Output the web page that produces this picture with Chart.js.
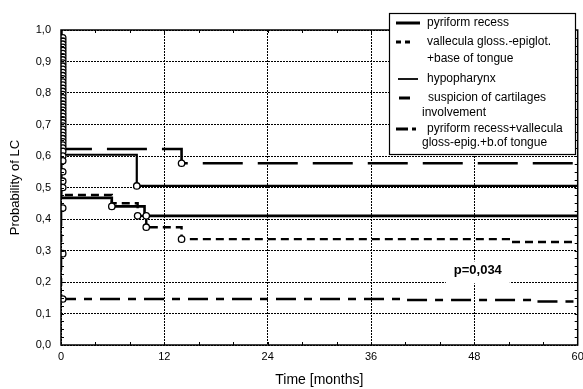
<!DOCTYPE html>
<html><head><meta charset="utf-8">
<script src="https://cdn.jsdelivr.net/npm/chart.js@4/dist/chart.umd.min.js"></script>
<style>html,body{margin:0;padding:0;background:#fff;}#wrap{width:583px;height:389px;overflow:hidden;}</style>
</head><body><div id="wrap"><canvas id="c" width="583" height="389"></canvas></div>
<script>
// ---- data ----
const xTicks = [0, 12, 24, 36, 48, 60];
const yTicks = [0, 0.1, 0.2, 0.3, 0.4, 0.5, 0.6, 0.7, 0.8, 0.9, 1.0];

const pyriformT   = [0, 0, 5.9, 9.7, 60];
const pyriformP   = [1.0, 0.467, 0.44, 0.41, 0.41];

const valleculaT  = [0, 0, 5.9, 8.9, 9.9, 14.0, 52, 60];
const valleculaP  = [1.0, 0.476, 0.45, 0.41, 0.374, 0.336, 0.327, 0.327];

const hypoT       = [0, 0, 8.8, 60];
const hypoP       = [1.0, 0.604, 0.505, 0.505];

const cartilT     = [0, 0, 14.0, 60];
const cartilP     = [1.0, 0.622, 0.577, 0.577];

const combT       = [0, 0, 40, 55, 60];
const combP       = [1.0, 0.146, 0.143, 0.138, 0.138];

const censorT = [0.2,0.2,0.2,0.2,0.2,0.2,0.2,0.2,0.2,0.2,0.2,0.2,0.2,0.2,0.2,0.2,0.2,0.2,0.2,0.2,
                 0.2,0.2,0.2,0.2,0.2,0.2,0.2,0.2,0.2,0.2,0.2,0.2,0.2,0.2,0.2,0.2,0.2,0.2,0.2,0.2,
                 0.2,0.2,0.2,0.2,0.2,
                 5.9, 8.8, 8.9, 9.9, 9.9, 14.0, 14.0];
const censorP = [0.975,0.965,0.955,0.945,0.935,0.925,0.915,0.905,0.895,0.885,0.875,0.865,0.855,0.845,0.835,0.825,0.815,0.805,0.795,0.785,
                 0.775,0.765,0.755,0.745,0.735,0.725,0.715,0.705,0.695,0.685,0.675,0.665,0.655,0.645,0.635,0.625,0.615,0.60,0.585,0.55,
                 0.52,0.50,0.435,0.29,0.146,
                 0.44, 0.505, 0.41, 0.41, 0.374, 0.577, 0.336];

const legendLabels = [
  ["pyriform recess"],
  ["vallecula gloss.-epiglot.", "+base of tongue"],
  ["hypopharynx"],
  ["suspicion of cartilages", "involvement"],
  ["pyriform recess+vallecula", "gloss-epig.+b.of tongue"]
];
const pText = "p=0,034";

// ---- helpers ----
function pts(t, p){ return t.map((v,i)=>({x:v, y:p[i]})); }
const FONT = "'Liberation Sans', Arial, sans-serif";

const styles = [
  {w:2.6, dash:[]},
  {w:2.4, dash:[8,5]},
  {w:2.2, dash:[]},
  {w:2.6, dash:[40,15]},
  {w:2.6, dash:[20,8,8,8]}
];
const curveData = [pts(pyriformT,pyriformP), pts(valleculaT,valleculaP), pts(hypoT,hypoP), pts(cartilT,cartilP), pts(combT,combP)];

const datasets = curveData.map((d,i)=>({
  label: legendLabels[i].join(' '),
  data: d, showLine: true, stepped: true, pointRadius: 0,
  borderColor: '#000', borderWidth: styles[i].w, borderDash: styles[i].dash,
  fill: false, order: 2
}));
datasets.unshift({
  label: 'censored', data: pts(censorT, censorP), showLine: false,
  pointRadius: 3.2, pointBackgroundColor: '#fff', pointBorderColor: '#000', pointBorderWidth: 1.3, order: 0
});

const overlay = {
  id: 'overlay',
  afterDraw(chart){
    const {ctx, chartArea: a, scales:{x, y}} = chart;
    ctx.save();
    // minor ticks
    ctx.strokeStyle = '#000'; ctx.lineWidth = 1; ctx.setLineDash([]);
    ctx.beginPath();
    for (let t = 4; t < 60; t += 4) {
      const px = Math.round(x.getPixelForValue(t)) + 0.5;
      ctx.moveTo(px, a.bottom); ctx.lineTo(px, a.bottom - 3);
      ctx.moveTo(px, a.top); ctx.lineTo(px, a.top + 3);
    }
    for (let k = 1; k < 40; k++) {
      const py = Math.round(y.getPixelForValue(k * 0.025)) + 0.5;
      ctx.moveTo(a.left, py); ctx.lineTo(a.left + 3, py);
      ctx.moveTo(a.right, py); ctx.lineTo(a.right - 3, py);
    }
    ctx.stroke();
    // frame
    ctx.lineWidth = 1.5;
    ctx.strokeRect(a.left, a.top, a.right - a.left, a.bottom - a.top);

    // p-value
    const px = x.getPixelForValue(48.4), py = y.getPixelForValue(0.237);
    ctx.fillStyle = '#fff';
    ctx.fillRect(px - 32, py - 9, 64, 22);
    ctx.fillStyle = '#000';
    ctx.font = 'bold 13px ' + FONT;
    ctx.textAlign = 'center'; ctx.textBaseline = 'middle';
    ctx.fillText(pText, px, py);

    // legend box
    const L = 389, T = 13, R = 575, B = 154;
    ctx.fillStyle = '#fff';
    ctx.fillRect(L, T, R - L, B - T);
    ctx.lineWidth = 1.2; ctx.strokeStyle = '#000';
    ctx.strokeRect(L + 0.5, T + 0.5, R - L, B - T);
    const rows = [
      {y:[23], x2:[427], seg:[[396,420]]},
      {y:[42,59], x2:[427,427], seg:[[396,401],[405,410]]},
      {y:[79], x2:[427], seg:[[398,418]]},
      {y:[98,113], x2:[428,422], seg:[[399,410]]},
      {y:[129,143], x2:[427,422], seg:[[396,408],[412,416]]}
    ];
    ctx.font = '12px ' + FONT;
    ctx.textAlign = 'left'; ctx.textBaseline = 'middle';
    rows.forEach((r,i)=>{
      ctx.lineWidth = i === 2 ? 1.8 : styles[i].w + 0.4;
      ctx.setLineDash([]);
      ctx.beginPath();
      r.seg.forEach(s=>{ ctx.moveTo(s[0], r.y[0]); ctx.lineTo(s[1], r.y[0]); });
      ctx.stroke();
      legendLabels[i].forEach((txt,j)=>{ ctx.fillStyle = '#000'; ctx.fillText(txt, r.x2[j], r.y[j]); });
    });
    ctx.restore();
  }
};

new Chart(document.getElementById('c'), {
  type: 'scatter',
  data: { datasets },
  plugins: [overlay],
  options: {
    responsive: false, animation: false, devicePixelRatio: 1,
    layout: { padding: { top: 30, right: 3, left: 0, bottom: 0 } },
    plugins: { legend: { display: false }, tooltip: { enabled: false } },
    scales: {
      x: {
        type: 'linear', min: 0, max: 60,
        afterBuildTicks: s => { s.ticks = xTicks.map(v=>({value:v})); },
        afterFit: s => { s.height = 44; s.paddingLeft = 0; s.paddingRight = 0; },
        grid: { color: '#000', lineWidth: 1, drawTicks: false },
        border: { display: false, dash: [2,1] },
        ticks: { color: '#000', font: { size: 11, family: FONT }, padding: 5, maxRotation: 0,
                 callback: v => String(v) },
        title: { display: true, text: 'Time [months]', color: '#000',
                 font: { size: 14, family: FONT }, padding: { top: 0, bottom: 0 } }
      },
      y: {
        type: 'linear', min: 0, max: 1,
        afterBuildTicks: s => { s.ticks = yTicks.map(v=>({value:v})); },
        afterFit: s => { s.width = 61; s.paddingTop = 0; s.paddingBottom = 0; },
        grid: { color: '#000', lineWidth: 1, drawTicks: false },
        border: { display: false, dash: [2,1] },
        ticks: { color: '#000', font: { size: 11, family: FONT }, padding: 10,
                 callback: v => v.toFixed(1).replace('.', ',') },
        title: { display: true, text: 'Probability of LC', color: '#000',
                 font: { size: 13, family: FONT }, padding: { top: 8, bottom: 0 } }
      }
    }
  }
});
</script>
</body></html>
